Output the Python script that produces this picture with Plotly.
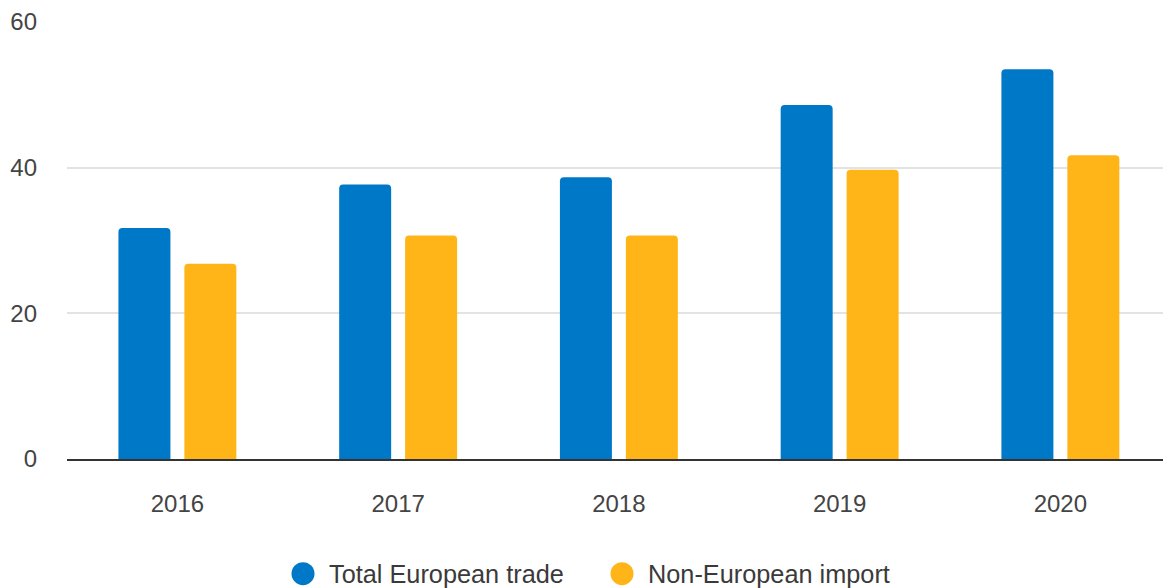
import plotly.graph_objects as go

# Yearly values
years = ["2016", "2017", "2018", "2019", "2020"]
total_european_trade = [31.7, 37.7, 38.7, 48.6, 53.5]
non_european_import = [26.8, 30.7, 30.7, 39.7, 41.7]

series_names = ["Total European trade", "Non-European import"]
series_colors = ["#0078C8", "#FFB517"]
y_ticks = [0, 20, 40, 60]

FONT = "Liberation Sans, Arial, sans-serif"
BAR_W = 0.2355

fig = go.Figure()
fig.add_trace(go.Bar(
    x=years, y=total_european_trade, name=series_names[0],
    marker=dict(color=series_colors[0], line=dict(width=0)),
    width=BAR_W, offset=-0.267, showlegend=False,
))
fig.add_trace(go.Bar(
    x=years, y=non_european_import, name=series_names[1],
    marker=dict(color=series_colors[1], line=dict(width=0)),
    width=BAR_W, offset=0.0317, showlegend=False,
))

# Legend: round swatches with labels beneath the plot
legend_x = [303, 622]
shapes = []
annotations = []
for name, color, cx in zip(series_names, series_colors, legend_x):
    shapes.append(dict(
        type="circle", xref="paper", yref="paper",
        xsizemode="pixel", ysizemode="pixel",
        xanchor=(cx - 67) / 1096, yanchor=(459.3 - 574) / 437,
        x0=-11.5, x1=11.5, y0=-11.5, y1=11.5,
        fillcolor=color, line=dict(width=0),
    ))
    annotations.append(dict(
        text=name, xref="paper", yref="paper",
        x=(cx + 24 - 67) / 1096, y=(459.3 - 574) / 437,
        xanchor="left", yanchor="middle", showarrow=False,
        font=dict(family=FONT, size=25.3, color="#3a3a3a"),
    ))

fig.update_layout(
    width=1163, height=588,
    margin=dict(l=67, r=0, t=22, b=129, pad=0),
    paper_bgcolor="white", plot_bgcolor="white",
    barmode="overlay", barcornerradius=4,
    shapes=shapes, annotations=annotations,
    font=dict(family=FONT, size=24, color="#444444"),
)
fig.update_xaxes(
    type="category", range=[-0.5, 4.465],
    showgrid=False, showline=True, linecolor="#333333", linewidth=2,
    ticks="", ticklabelstandoff=22,
    tickfont=dict(family=FONT, size=24, color="#444444"),
)
fig.update_yaxes(
    range=[0, 60], tickvals=y_ticks,
    showgrid=True, gridcolor="#e3e3e3", gridwidth=2,
    zeroline=False, showline=False, ticks="",
    ticklabelstandoff=29,
    tickfont=dict(family=FONT, size=24, color="#444444"),
)

fig.write_html("out.html")
